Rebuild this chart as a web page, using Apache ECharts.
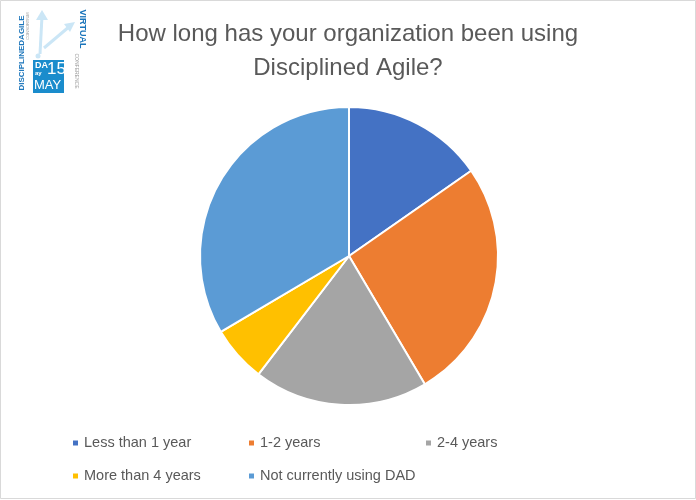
<!DOCTYPE html>
<html>
<head>
<meta charset="utf-8">
<script src="https://cdn.jsdelivr.net/npm/echarts@6/dist/echarts.min.js"></script>
<style>
  html, body { margin: 0; padding: 0; background: #fff; }
  #main { width: 696px; height: 500px; }
</style>
</head>
<body>
<div id="main"></div>
<script>
// survey answers (share of respondents)
var categories = ['Less than 1 year', '1-2 years', '2-4 years', 'More than 4 years', 'Not currently using DAD'];
var shares = [15.3, 26.2, 18.9, 6.1, 33.5];
var colors = ['#4472C4', '#ED7D31', '#A5A5A5', '#FFC000', '#5B9BD5'];

var titleText = 'How long has your organization been using\nDisciplined Agile?';

var myChart = echarts.init(document.getElementById('main'));

var pieData = [];
for (var i = 0; i < categories.length; i++) {
    pieData.push({ name: categories[i], value: shares[i] });
}

// legend laid out in three columns like the original
var legendCols = [
    [categories[0], categories[3]],
    [categories[1], categories[4]],
    [categories[2]]
];
var legendLeft = [71, 247, 424];
var legends = legendCols.map(function (col, idx) {
    return {
        data: col,
        orient: 'vertical',
        left: legendLeft[idx],
        top: 435,
        padding: 0,
        icon: 'rect',
        itemWidth: 7,
        itemHeight: 7,
        itemGap: 17,
        selectedMode: false,
        textStyle: {
            color: '#595959',
            fontSize: 14.5,
            lineHeight: 16,
            fontFamily: 'Liberation Sans'
        }
    };
});

myChart.setOption({
    backgroundColor: '#fff',
    color: colors,
    animation: false,
    title: {
        text: titleText,
        left: 'center',
        top: 12,
        textStyle: {
            color: '#595959',
            fontSize: 24,
            lineHeight: 34,
            fontWeight: 'normal',
            fontFamily: 'Liberation Sans'
        }
    },
    legend: legends,
    graphic: [
        // thin frame around the chart area
        { type: 'rect', shape: { x: 0.5, y: 0.5, width: 695, height: 498 },
          style: { fill: 'none', stroke: '#d9d9d9', lineWidth: 1 } },
        // conference logo, top left
        { type: 'polyline', shape: { points: [[40, 54], [42, 16]] },
          style: { stroke: '#cbe6f6', lineWidth: 3 } },
        { type: 'polygon', shape: { points: [[36, 20], [42, 10], [48, 20]] },
          style: { fill: '#cbe6f6' } },
        { type: 'polyline', shape: { points: [[44, 48], [70, 26]] },
          style: { stroke: '#cbe6f6', lineWidth: 3 } },
        { type: 'polygon', shape: { points: [[64, 24], [75, 22], [70, 32]] },
          style: { fill: '#cbe6f6' } },
        { type: 'circle', shape: { cx: 38, cy: 56, r: 2.5 }, style: { fill: '#cbe6f6' } },
        { type: 'text', x: 22, y: 53, rotation: Math.PI / 2,
          style: { text: 'DISCIPLINEDAGILE', fill: '#1b75bb', font: 'bold 8px Liberation Sans',
                   align: 'center', verticalAlign: 'middle' } },
        { type: 'text', x: 28, y: 26, rotation: Math.PI / 2,
          style: { text: 'CONSORTIUM', fill: '#999', font: '4px Liberation Sans',
                   align: 'center', verticalAlign: 'middle' } },
        { type: 'text', x: 82, y: 29, rotation: -Math.PI / 2,
          style: { text: 'VIRTUAL', fill: '#1b75bb', font: 'bold 9px Liberation Sans',
                   align: 'center', verticalAlign: 'middle' } },
        { type: 'text', x: 76, y: 71, rotation: -Math.PI / 2,
          style: { text: 'CONFERENCE', fill: '#999', font: '5px Liberation Sans',
                   align: 'center', verticalAlign: 'middle' } },
        { type: 'rect', shape: { x: 33, y: 60, width: 31, height: 33 },
          style: { fill: '#1a8ccc' } },
        { type: 'text', x: 35, y: 61,
          style: { text: 'DA', fill: '#fff', font: 'bold 9px Liberation Sans' } },
        { type: 'text', x: 35, y: 70,
          style: { text: 'ay', fill: '#fff', font: 'bold 6px Liberation Sans' } },
        { type: 'text', x: 47, y: 61,
          style: { text: '15', fill: '#fff', font: '17px Liberation Sans' } },
        { type: 'text', x: 34, y: 79,
          style: { text: 'MAY', fill: '#fff', font: '13px Liberation Sans' } }
    ],
    series: [{
        type: 'pie',
        center: [349, 256],
        radius: 149,
        startAngle: 90,
        clockwise: true,
        label: { show: false },
        labelLine: { show: false },
        itemStyle: { borderColor: '#fff', borderWidth: 2 },
        emphasis: { scale: false },
        data: pieData
    }]
});
</script>
</body>
</html>
